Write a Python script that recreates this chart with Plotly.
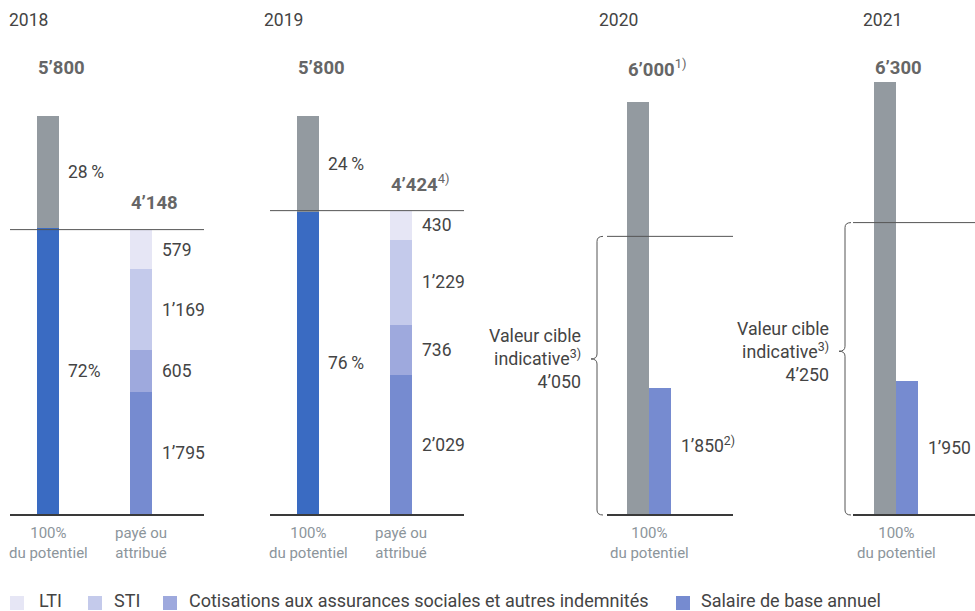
import plotly.graph_objects as go
import numpy as np

# ---------------- data ----------------
years = ["2018", "2019", "2020", "2021"]
potential_total = [5800, 5800, 6000, 6300]
potential_fixed_pct = [72, 76]          # 2018, 2019 share of base (blue)
potential_var_pct = [28, 24]            # 2018, 2019 variable share (gray)
pct_labels_fixed = ["72%", "76\u2009%"]
pct_labels_var = ["28\u2009%", "24\u2009%"]
component_names = ["LTI", "STI",
                   "Cotisations aux assurances sociales et autres indemnités",
                   "Salaire de base annuel"]
paid_2018 = [579, 1169, 605, 1795]
paid_2019 = [430, 1229, 736, 2029]
paid_total = [4148, 4424]
target_value = [4050, 4250]             # 2020, 2021 indicative target
base_salary_target = [1850, 1950]       # 2020, 2021
total_notes = ["", "", "1)", ""]
paid_notes = ["", "4)"]
base_notes = ["2)", ""]
target_note = "3)"
cat_potential = "100%<br>du potentiel"
cat_paid = "payé ou<br>attribué"

# ---------------- style / layout constants ----------------
W, H = 975, 611
BASE_PX = 515
K = 0.0688                      # px per unit
YR = [-(H - BASE_PX) / K, BASE_PX / K]
BW = 22
C_GRAY = "#939aa0"
C_BLUE = "#3a6bc2"
C_COMP = ["#e6e6f5", "#c4caeb", "#9ea9dd", "#768bd0"]
C_TEXT = "#444444"
C_BOLD = "#666666"
C_CAT = "#8c959b"
FONT = "Roboto"
FS = 17.5

pos_pot = [48, 308, 638, 885]
pos_paid = [141, 401]
pos_base = [660, 907]
panel_x = [(10, 204), (270, 464), (607, 733), (853, 975)]
year_x = [7, 262, 597, 861]
brace_x = [597, 845]
text_right = [583, 831]
legend_sq_x = [10, 88, 163, 676]
legend_tx_x = [37, 112, 187, 699]
LEG_Y = 603
LEG_TXT_Y = 600.5
SQ = 14


def fmt(v):
    return f"{v:,}".replace(",", "\u2019")


def ypx_paper(px):
    return 1 - px / H


def xpx_paper(px):
    return px / W


fig = go.Figure()

# potential bars 2018/2019: blue fixed share + gray variable share
fixed_vals = [potential_total[i] * potential_fixed_pct[i] / 100 for i in range(2)]
var_vals = [potential_total[i] * potential_var_pct[i] / 100 for i in range(2)]
fig.add_trace(go.Bar(x=pos_pot[:2], y=fixed_vals, base=[0, 0], width=BW,
                     marker_color=C_BLUE, marker_line_width=0, showlegend=False,
                     hoverinfo="skip"))
fig.add_trace(go.Bar(x=pos_pot, y=var_vals + potential_total[2:],
                     base=fixed_vals + [0, 0], width=BW,
                     marker_color=C_GRAY, marker_line_width=0, showlegend=False,
                     hoverinfo="skip"))

# paid stacks
paid = np.array([paid_2018, paid_2019])          # rows: years, cols: components (top->bottom)
rev = paid[:, ::-1]                               # bottom->top
bases_rev = np.hstack([np.zeros((2, 1)), np.cumsum(rev, axis=1)[:, :-1]])
bases = bases_rev[:, ::-1]
for j, name in enumerate(component_names):
    xs = list(pos_paid)
    ys = list(paid[:, j])
    bs = list(bases[:, j])
    if j == 3:
        xs += pos_base
        ys += base_salary_target
        bs += [0, 0]
    fig.add_trace(go.Bar(x=xs, y=ys, base=bs, width=BW, name=name,
                         marker_color=C_COMP[j], marker_line_width=0,
                         showlegend=False, hoverinfo="skip"))

shapes = []
ann = []

# reference lines and baselines
hlines = paid_total + target_value
for i, (x0, x1) in enumerate(panel_x):
    shapes.append(dict(type="line", xref="x", yref="y", x0=x0, x1=x1, y0=hlines[i], y1=hlines[i],
                       line=dict(color="#555555", width=1)))
    shapes.append(dict(type="line", xref="x", yref="y", x0=x0, x1=x1, y0=0, y1=0,
                       line=dict(color="#3a3a3a", width=2)))

# braces 2020 / 2021
d = 5 / K
for i in range(2):
    xv = brace_x[i]
    yt = target_value[i]
    ym = 0.56 * target_value[i]
    yb = 0
    xt, xh = xv - 6, xv + 6
    path = (f"M{xh},{yt} Q{xv},{yt} {xv},{yt - d} L{xv},{ym + d} Q{xv},{ym} {xt},{ym} "
            f"Q{xv},{ym} {xv},{ym - d} L{xv},{yb + d} Q{xv},{yb} {xh},{yb}")
    shapes.append(dict(type="path", xref="x", yref="y", path=path,
                       line=dict(color="#555555", width=1)))
    ann.append(dict(x=text_right[i], y=ym, xref="x", yref="y", xanchor="right", yanchor="middle",
                    align="right", showarrow=False,
                    text=f"Valeur cible<br>indicative<sup>{target_note}</sup><br>{fmt(target_value[i])}",
                    font=dict(size=17.8, color=C_TEXT, family=FONT)))

# year labels
for i, y in enumerate(years):
    ann.append(dict(x=year_x[i], y=ypx_paper(20), xref="x", yref="paper", xanchor="left",
                    yanchor="middle", showarrow=False, text=y,
                    font=dict(size=FS, color=C_TEXT, family=FONT)))

# totals
for i, v in enumerate(potential_total):
    note = f"<sup>{total_notes[i]}</sup>" if total_notes[i] else ""
    ann.append(dict(x=pos_pot[i] - BW / 2 - 1, y=ypx_paper(68), xref="x", yref="paper", xanchor="left",
                    yanchor="middle", showarrow=False, text=f"<b>{fmt(v)}</b>{note}",
                    font=dict(size=18.5, color=C_BOLD, family=FONT)))
for i, v in enumerate(paid_total):
    note = f"<sup>{paid_notes[i]}</sup>" if paid_notes[i] else ""
    ann.append(dict(x=pos_paid[i] - BW / 2 - 1, y=v, yshift=27, xref="x", yref="y", xanchor="left",
                    yanchor="middle", showarrow=False, text=f"<b>{fmt(v)}</b>{note}",
                    font=dict(size=18.5, color=C_BOLD, family=FONT)))

# percent labels
for i in range(2):
    ann.append(dict(x=pos_pot[i] + BW / 2 + 7, y=fixed_vals[i] + var_vals[i] / 2, xref="x", yref="y",
                    xanchor="left", yanchor="middle", showarrow=False, text=pct_labels_var[i],
                    font=dict(size=FS, color=C_TEXT, family=FONT)))
    ann.append(dict(x=pos_pot[i] + BW / 2 + 7, y=fixed_vals[i] / 2, xref="x", yref="y",
                    xanchor="left", yanchor="middle", showarrow=False, text=pct_labels_fixed[i],
                    font=dict(size=FS, color=C_TEXT, family=FONT)))

# segment labels
for i in range(2):
    for j in range(4):
        ann.append(dict(x=pos_paid[i] + BW / 2 + 8, y=bases[i, j] + paid[i, j] / 2, xref="x", yref="y",
                        xanchor="left", yanchor="middle", showarrow=False, text=fmt(int(paid[i, j])),
                        font=dict(size=FS, color=C_TEXT, family=FONT)))
base_label_shift = [6, 0]
for i in range(2):
    note = f"<sup>{base_notes[i]}</sup>" if base_notes[i] else ""
    ann.append(dict(x=pos_base[i] + BW / 2 + 8, y=base_salary_target[i] / 2, yshift=base_label_shift[i],
                    xref="x", yref="y",
                    xanchor="left", yanchor="middle", showarrow=False, text=fmt(base_salary_target[i]) + note,
                    font=dict(size=FS, color=C_TEXT, family=FONT)))

# category labels
cat_x = [pos_pot[0], pos_pot[1], (pos_pot[2] + pos_base[0]) / 2, (pos_pot[3] + pos_base[1]) / 2]
for i in range(4):
    ann.append(dict(x=cat_x[i], y=ypx_paper(522), xref="x", yref="paper", xanchor="center",
                    yanchor="top", showarrow=False, text=cat_potential,
                    font=dict(size=15, color=C_CAT, family=FONT)))
for i in range(2):
    ann.append(dict(x=pos_paid[i], y=ypx_paper(522), xref="x", yref="paper", xanchor="center",
                    yanchor="top", showarrow=False, text=cat_paid,
                    font=dict(size=15, color=C_CAT, family=FONT)))

# legend (drawn as swatches + labels)
for j, name in enumerate(component_names):
    shapes.append(dict(type="rect", xref="paper", yref="paper",
                       x0=xpx_paper(legend_sq_x[j]), x1=xpx_paper(legend_sq_x[j] + SQ),
                       y0=ypx_paper(LEG_Y + SQ / 2), y1=ypx_paper(LEG_Y - SQ / 2),
                       fillcolor=C_COMP[j], line=dict(width=0)))
    ann.append(dict(x=xpx_paper(legend_tx_x[j]), y=ypx_paper(LEG_TXT_Y), xref="paper", yref="paper",
                    xanchor="left", yanchor="middle", showarrow=False, text=name,
                    font=dict(size=18, color=C_TEXT, family=FONT)))

fig.update_layout(
    width=W, height=H,
    margin=dict(l=0, r=0, t=0, b=0),
    paper_bgcolor="white", plot_bgcolor="white",
    barmode="overlay",
    bargap=0,
    xaxis=dict(range=[0, W], visible=False, fixedrange=True),
    yaxis=dict(range=YR, visible=False, fixedrange=True),
    shapes=shapes,
    annotations=ann,
    showlegend=False,
    font=dict(family=FONT),
)

fig.write_html("out.html",
               config={"displayModeBar": False, "staticPlot": True},
               post_script="document.body.style.margin='0px';document.body.style.overflow='hidden';")
